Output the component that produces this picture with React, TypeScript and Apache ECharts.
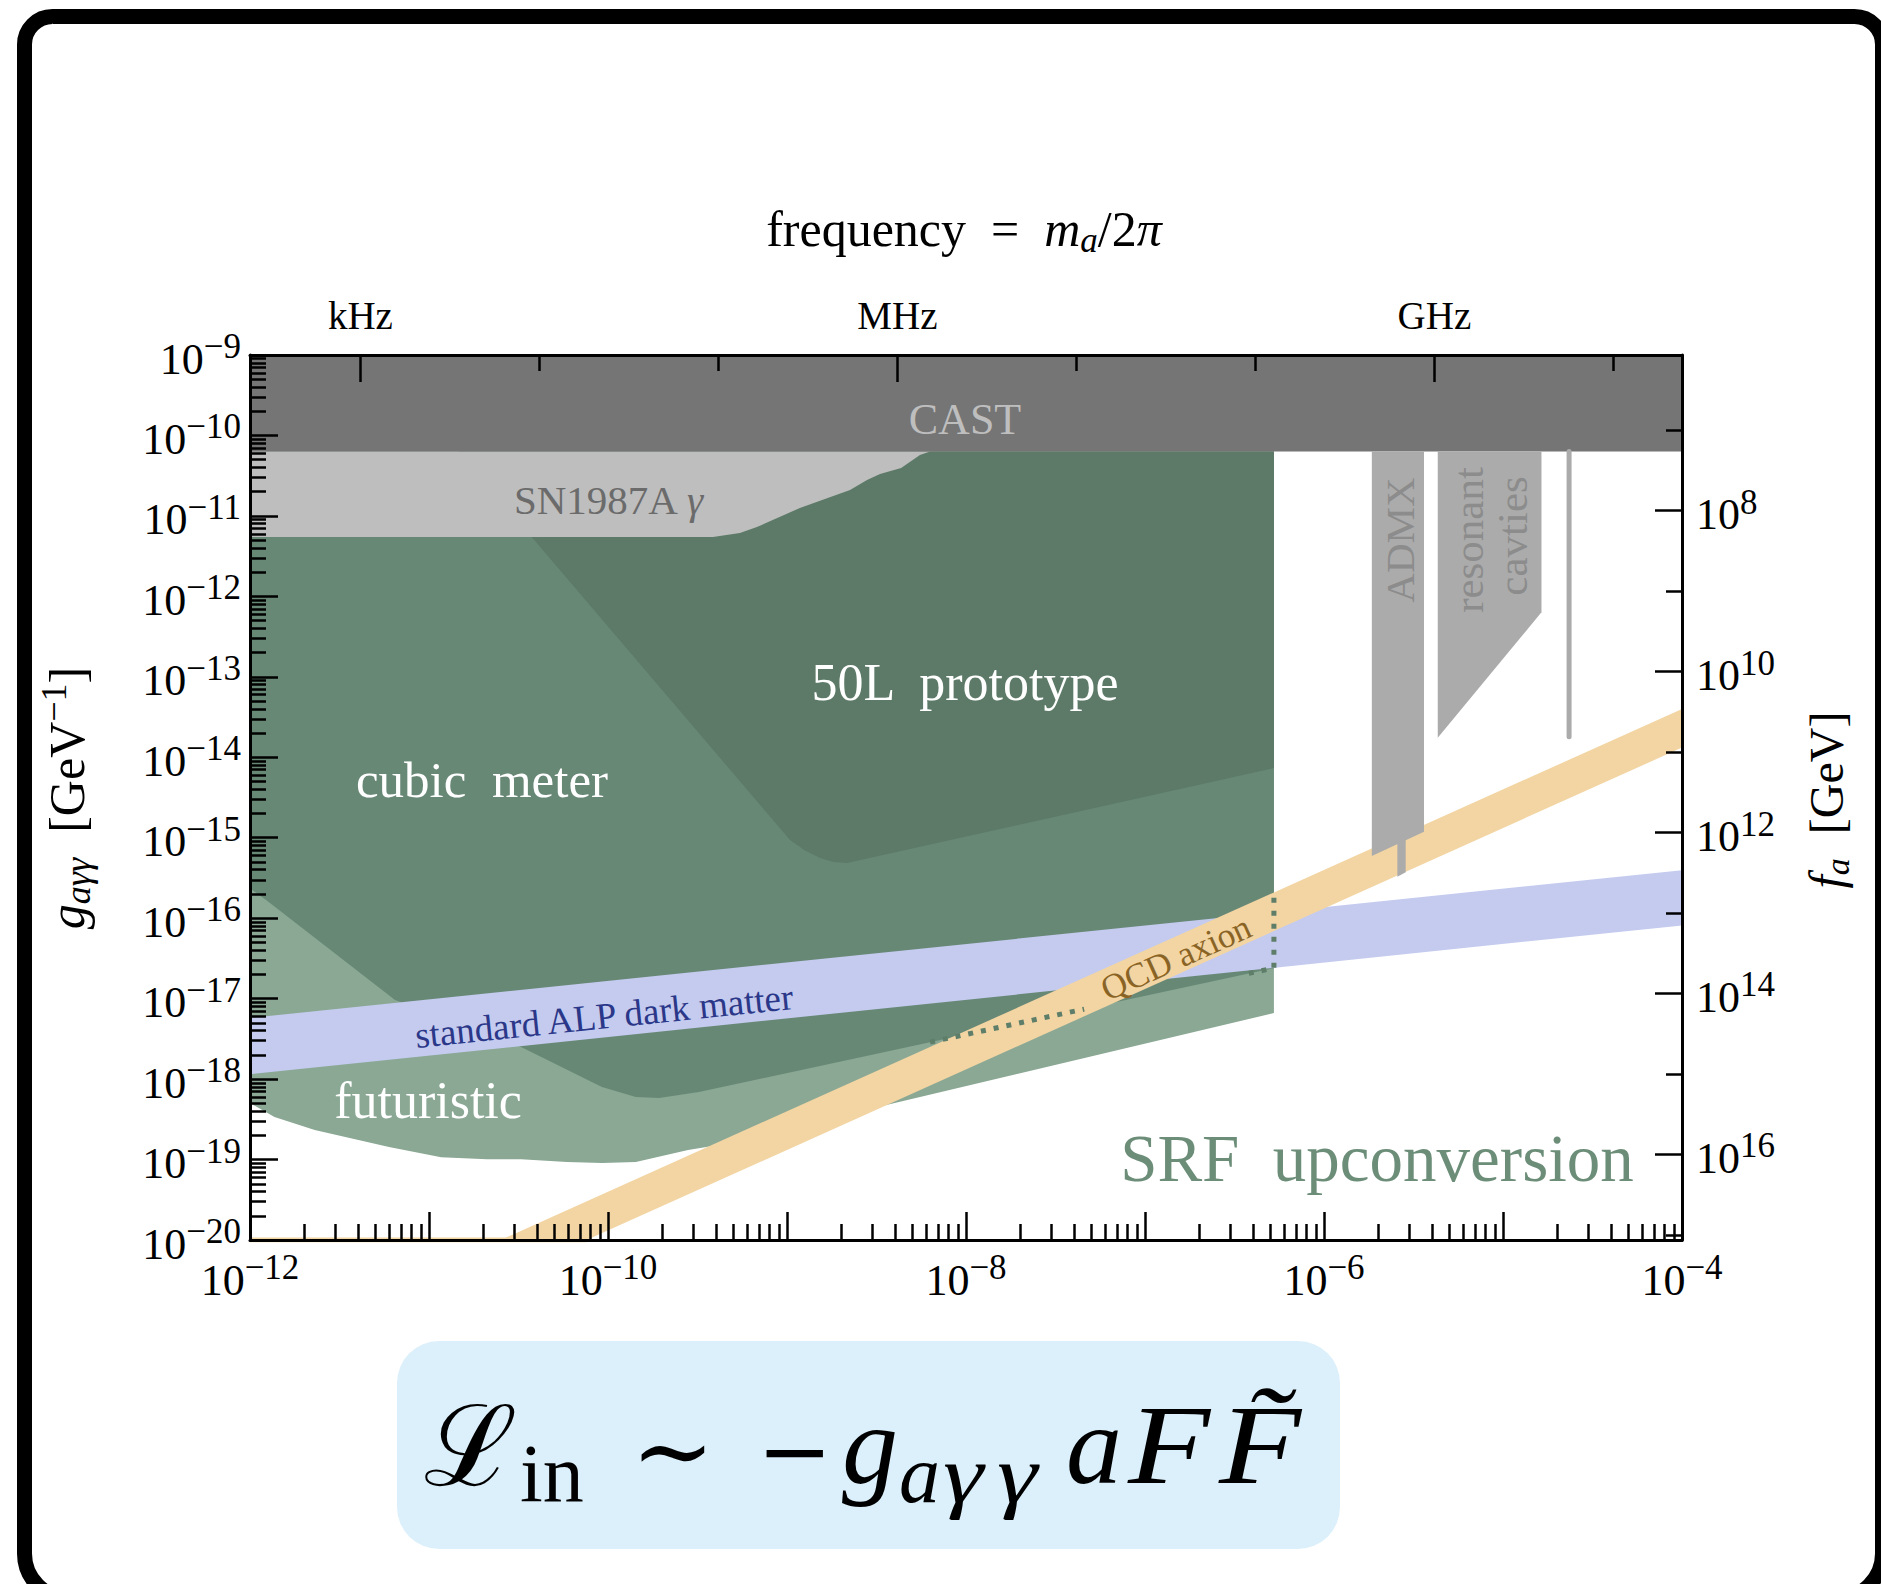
import React, { useEffect, useRef } from 'react';
import * as echarts from 'echarts';

const CANVAS_W = 1881;
const CANVAS_H = 1584;
const SERIF = '"Liberation Serif"';
const DJV = '"DejaVu Serif"';

// ---------- axes (log10 exponents on value axes) ----------
const MASS_MIN_EXP = -12;
const MASS_MAX_EXP = -4;
const G_MIN_EXP = -20;
const G_MAX_EXP = -9;

// conversions for the secondary axes
const HZ_PER_EV = 2.418e14; // frequency = m_a / 2pi
const G_TIMES_FA = 1.16e-3; // g_agg * f_a  (QCD relation used for the right axis)

const massLabelExps = [-12, -10, -8, -6, -4];
const freqMajorHz = [1e3, 1e6, 1e9];
const freqMajorNames = ['kHz', 'MHz', 'GHz'];
const freqMinorHz = [1e4, 1e5, 1e7, 1e8, 1e10];
const faLabelExps = [8, 10, 12, 14, 16];
const faMinorExps = [7, 9, 11, 13, 15, 17];
const minorMultipliers = [2, 3, 4, 5, 6, 7, 8, 9];

// ---------- regions: axion mass [eV] and coupling [GeV^-1] ----------
const castLimit = 6.3e-11;
const castMass = [1e-12, 1e-4, 1e-4, 1e-12];
const castG = [1e-9, 1e-9, castLimit, castLimit];

const sn1987aMass = [1e-12, 1e-12, 3.86e-10, 5.46e-10, 6.79e-10, 1.18e-9, 2.25e-9, 2.8e-9, 3.31e-9, 4.34e-9, 5.53e-9, 6.3e-9];
const sn1987aG = [castLimit, 5.47e-12, 5.47e-12, 6.12e-12, 7.28e-12, 1.25e-11, 2.1e-11, 2.79e-11, 3.32e-11, 3.94e-11, 5.71e-11, castLimit];

const futureMass = [1e-12, 5.25e-7, 5.25e-7, 4.06e-10, 2.8e-10, 1.43e-10, 9.25e-11, 5.9e-11, 3.27e-11, 2.11e-11, 1.17e-11, 5.98e-12, 2.3e-12, 1.37e-12, 1e-12];
const futureG = [castLimit, castLimit, 6.62e-18, 1.51e-19, 1.31e-19, 9.31e-20, 9.06e-20, 9.31e-20, 1.01e-19, 1.01e-19, 1.07e-19, 1.43e-19, 2.33e-19, 3.37e-19, 5.04e-19];

const cubicMass = [1e-12, 5.25e-7, 5.25e-7, 3.22e-10, 1.93e-10, 1.43e-10, 9.25e-11, 3.27e-11, 6.46e-12, 1.23e-12, 1e-12];
const cubicG = [castLimit, castLimit, 2.4e-17, 6.9e-19, 5.81e-19, 5.98e-19, 7.96e-19, 2.5e-18, 9.62e-18, 1.68e-16, 2.34e-16];

const proto50LMass = [1.47e-11, 5.25e-7, 5.25e-7, 2.16e-9, 1.82e-9, 1.53e-9, 1.26e-9, 1.04e-9];
const proto50LG = [castLimit, castLimit, 7.35e-15, 4.84e-16, 5.01e-16, 5.6e-16, 6.92e-16, 9.35e-16];

const alpMass = [1e-12, 1e-4, 1e-4, 1e-12];
const alpG = [5.77e-18, 3.95e-16, 8.13e-17, 1.15e-18];

const qcdMass = [2.51e-11, 1e-4, 1e-4, 7.59e-11];
const qcdG = [1e-20, 3.98e-14, 1.32e-14, 1e-20];
const qcdFloorMass = [1e-12, 7.59e-11];
const qcdFloorG = [1e-20, 1e-20];

const admxMass = [1.85e-6, 3.62e-6, 3.62e-6, 1.85e-6];
const admxG = [castLimit, castLimit, 1.19e-15, 5.93e-16];
const admxSpikeMass = [2.57e-6, 2.86e-6, 2.86e-6, 2.57e-6];
const admxSpikeG = [1e-15, 1e-15, 3.72e-16, 3.27e-16];

const cavityMass = [4.32e-6, 1.64e-5, 1.64e-5, 4.32e-6];
const cavityG = [castLimit, castLimit, 6.34e-13, 1.75e-14];

const cavityLineMass = [2.34e-5, 2.34e-5];
const cavityLineG = [castLimit, 1.8e-14];

const hiddenEdgeAMass = [6.3e-9, 4.57e-8];
const hiddenEdgeAG = [2.88e-18, 7.41e-18];
const hiddenEdgeBMass = [3.8e-7, 5.25e-7, 5.25e-7];
const hiddenEdgeBG = [2.06e-17, 2.4e-17, 2.0e-16];

// ---------- colours ----------
const C = {
  cast: '#757575',
  sn: '#bebebe',
  future: '#8aa894',
  cubic: '#688876',
  proto: '#5c7a67',
  alp: '#c4cbef',
  qcd: '#f2d5a3',
  gray: '#ababab',
  dotted: '#5e7e6a',
};

const L = Math.log10;
const toPts = (ms: number[], gs: number[]) => ms.map((m, i) => [L(m), L(gs[i])]);
const supText = (n: number) => (n < 0 ? '\u2212' + Math.abs(n) : String(n));
const minorsFor = (a: number, b: number) => {
  const r: number[] = [];
  for (let n = a; n < b; n++) minorMultipliers.forEach((k) => r.push(n + L(k)));
  return r;
};

function region(name: string, ms: number[], gs: number[], color: string, z: number) {
  const data = toPts(ms, gs);
  return {
    type: 'custom',
    name,
    z,
    silent: true,
    xAxisIndex: 0,
    yAxisIndex: 0,
    data,
    encode: { x: 0, y: 1 },
    renderItem: (params: any, api: any) => {
      if (params.dataIndex !== 0) return null;
      return {
        type: 'polygon',
        shape: { points: data.map((d) => api.coord(d)) },
        style: { fill: color },
      };
    },
  };
}

function lineSeries(name: string, ms: number[], gs: number[], color: string, width: number, z: number, dash?: number[], cap = 'butt') {
  return {
    type: 'line',
    name,
    z,
    silent: true,
    xAxisIndex: 0,
    yAxisIndex: 0,
    data: toPts(ms, gs),
    symbol: 'none',
    lineStyle: { color, width, type: dash || 'solid', cap },
  };
}

const tickRich = {
  b: { fontFamily: SERIF, fontSize: 44, color: '#000', verticalAlign: 'bottom' },
  s: { fontFamily: SERIF, fontSize: 35, color: '#000', verticalAlign: 'bottom', padding: [0, 0, 17, 0] },
};
const expLabel = (n: number) => `{b|10}{s|${supText(n)}}`;

const axisLine = { show: true, onZero: false, lineStyle: { color: '#000', width: 3 } };
const tickLine = { color: '#000', width: 2.5 };

function buildOption() {
  const xMinor = minorsFor(MASS_MIN_EXP, MASS_MAX_EXP);
  const yMinor = minorsFor(G_MIN_EXP, G_MAX_EXP);
  const freqMajorPos = freqMajorHz.map((f) => L(f / HZ_PER_EV));
  const freqMinorPos = freqMinorHz.map((f) => L(f / HZ_PER_EV));
  const faMajorPos = faLabelExps.map((k) => L(G_TIMES_FA) - k);
  const faMinorPos = faMinorExps.map((k) => L(G_TIMES_FA) - k);

  const baseX = { type: 'value', min: MASS_MIN_EXP, max: MASS_MAX_EXP, z: 10, splitLine: { show: false } };
  const baseY = { type: 'value', min: G_MIN_EXP, max: G_MAX_EXP, z: 10, splitLine: { show: false } };

  return {
    animation: false,
    backgroundColor: '#ffffff',
    grid: { left: 250, top: 355, width: 1432, height: 885, containLabel: false, outerBoundsMode: 'none' },
    xAxis: [
      {
        ...baseX,
        position: 'bottom',
        interval: 1,
        axisLine,
        axisTick: { show: true, inside: true, length: 28, lineStyle: tickLine },
        axisLabel: {
          show: true,
          margin: 10,
          formatter: (v: number) => (massLabelExps.indexOf(Math.round(v)) >= 0 ? expLabel(Math.round(v)) : ''),
          rich: tickRich,
        },
      },
      {
        ...baseX,
        position: 'bottom',
        axisLine: { show: false },
        axisTick: { show: true, inside: true, length: 16, lineStyle: tickLine, customValues: xMinor },
        axisLabel: { show: false },
      },
      {
        ...baseX,
        position: 'top',
        axisLine,
        axisTick: { show: true, inside: true, length: 27, lineStyle: tickLine, customValues: freqMajorPos },
        axisLabel: {
          show: true,
          margin: 20,
          customValues: freqMajorPos,
          fontFamily: SERIF,
          fontSize: 39,
          color: '#000',
          formatter: (v: number) => {
            const i = freqMajorPos.findIndex((p) => Math.abs(p - v) < 1e-6);
            return i >= 0 ? freqMajorNames[i] : '';
          },
        },
      },
      {
        ...baseX,
        position: 'top',
        axisLine: { show: false },
        axisTick: { show: true, inside: true, length: 16, lineStyle: tickLine, customValues: freqMinorPos },
        axisLabel: { show: false },
      },
    ],
    yAxis: [
      {
        ...baseY,
        position: 'left',
        interval: 1,
        axisLine,
        axisTick: { show: true, inside: true, length: 28, lineStyle: tickLine },
        axisLabel: { show: true, margin: 9, formatter: (v: number) => expLabel(Math.round(v)), rich: tickRich },
      },
      {
        ...baseY,
        position: 'left',
        axisLine: { show: false },
        axisTick: { show: true, inside: true, length: 16, lineStyle: tickLine, customValues: yMinor },
        axisLabel: { show: false },
      },
      {
        ...baseY,
        position: 'right',
        axisLine,
        axisTick: { show: true, inside: true, length: 27, lineStyle: tickLine, customValues: faMajorPos },
        axisLabel: {
          show: true,
          margin: 14,
          customValues: faMajorPos,
          formatter: (v: number) => expLabel(Math.round(L(G_TIMES_FA) - v)),
          rich: tickRich,
        },
      },
      {
        ...baseY,
        position: 'right',
        axisLine: { show: false },
        axisTick: { show: true, inside: true, length: 16, lineStyle: tickLine, customValues: faMinorPos },
        axisLabel: { show: false },
      },
    ],
    series: [
      region('futuristic', futureMass, futureG, C.future, 1),
      region('cubic meter', cubicMass, cubicG, C.cubic, 2),
      region('50L prototype', proto50LMass, proto50LG, C.proto, 3),
      region('SN1987A', sn1987aMass, sn1987aG, C.sn, 4),
      region('CAST', castMass, castG, C.cast, 5),
      region('standard ALP dark matter', alpMass, alpG, C.alp, 6),
      region('QCD axion', qcdMass, qcdG, C.qcd, 7),
      lineSeries('QCD floor', qcdFloorMass, qcdFloorG, C.qcd, 5, 7),
      lineSeries('hidden edge A', hiddenEdgeAMass, hiddenEdgeAG, C.dotted, 5, 8, [5, 8]),
      lineSeries('hidden edge B', hiddenEdgeBMass, hiddenEdgeBG, C.dotted, 5, 8, [5, 8]),
      region('ADMX', admxMass, admxG, C.gray, 8),
      region('ADMX spike', admxSpikeMass, admxSpikeG, C.gray, 8),
      region('resonant cavities', cavityMass, cavityG, C.gray, 8),
      lineSeries('cavity line', cavityLineMass, cavityLineG, C.gray, 5, 8, undefined, 'round'),
    ],
    graphic: buildGraphic(),
  };
}

function txt(x: number, y: number, text: string, size: number, fill: string, opts: any = {}) {
  return {
    type: 'text',
    x,
    y,
    rotation: opts.rotation || 0,
    scaleX: opts.scaleX || 1,
    z: 50,
    silent: true,
    style: {
      text,
      fill,
      fontFamily: opts.family || SERIF,
      fontSize: size,
      fontStyle: opts.italic ? 'italic' : 'normal',
      align: opts.align || 'center',
      verticalAlign: 'middle',
      rich: opts.rich,
    },
  };
}

function buildGraphic() {
  const deg = Math.PI / 180;
  const labelRich = (main: number, sub: number, color: string) => ({
    r: { fontFamily: SERIF, fontSize: main, fill: color, verticalAlign: 'bottom', padding: [0, 0, 4, 0] },
    i: { fontFamily: SERIF, fontSize: main, fill: color, fontStyle: 'italic', verticalAlign: 'bottom', padding: [0, 0, 4, 0] },
    sub: { fontFamily: SERIF, fontSize: sub, fill: color, fontStyle: 'italic', verticalAlign: 'bottom' },
    sup: { fontFamily: SERIF, fontSize: sub, fill: color, verticalAlign: 'bottom', padding: [0, 0, Math.round(main * 0.48), 0] },
  });
  const els: any[] = [
    // frame
    {
      type: 'rect',
      z: 60,
      silent: true,
      shape: { x: 24.5, y: 16.5, width: 1858, height: 1582, r: [28, 28, 45, 45] },
      style: { fill: 'none', stroke: '#000', lineWidth: 15 },
    },
    // formula box
    {
      type: 'rect',
      z: 40,
      silent: true,
      shape: { x: 397, y: 1341, width: 943, height: 208, r: 42 },
      style: { fill: '#dcf0fb' },
    },
    // title
    txt(964, 231, '{r|frequency  =  }{i|m}{sub|a}{r|/2}{i|\u03c0}', 50, '#000', { rich: labelRich(50, 35, '#000') }),
    // axis titles
    txt(66, 798, '{i|g}{sub|a\u03b3\u03b3}{r|  [GeV}{sup|\u22121}{r|]}', 50, '#000', { rotation: 90 * deg, rich: labelRich(50, 36, '#000') }),
    txt(1828, 800, '{i|f}{sub|a}{r|  [GeV]}', 48, '#000', { rotation: 90 * deg, rich: labelRich(48, 34, '#000') }),
    // region labels
    txt(965, 419, 'CAST', 44, '#bebebe'),
    txt(608, 500, '{r|SN1987A }{i|\u03b3}', 41, '#6b6b6b', {
      rich: {
        r: { fontFamily: SERIF, fontSize: 41, fill: '#6b6b6b' },
        i: { fontFamily: SERIF, fontSize: 41, fill: '#6b6b6b', fontStyle: 'italic' },
      },
    }),
    txt(965, 682, '50L  prototype', 52, '#ffffff'),
    txt(482, 780, 'cubic  meter', 51, '#ffffff'),
    txt(428, 1100, 'futuristic', 52, '#ffffff'),
    txt(1377, 1158, 'SRF  upconversion', 67, '#6c8e79'),
    txt(604, 1016, 'standard ALP dark matter', 37, '#2b3788', { rotation: 5.9 * deg }),
    txt(1176, 958, 'QCD axion', 35, '#8a6425', { rotation: 24.2 * deg }),
    txt(1400, 540, 'ADMX', 41, '#8c8c8c', { rotation: 90 * deg }),
    txt(1468, 540, 'resonant', 43, '#8c8c8c', { rotation: 90 * deg }),
    txt(1512, 536, 'cavties', 43, '#8c8c8c', { rotation: 90 * deg }),
    // formula  L_in ~ -g_{a gamma gamma} a F F~
    txt(424, 1446, '\u2112', 112, '#000', { family: DJV, align: 'left' }),
    txt(520, 1473, 'in', 82, '#000', { align: 'left' }),
    txt(631, 1450, '\u223c', 100, '#000', { family: DJV, align: 'left' }),
    txt(757, 1450, '\u2212', 90, '#000', { family: DJV, align: 'left' }),
    txt(842, 1445, 'g', 112, '#000', { italic: true, align: 'left' }),
    txt(899, 1474, 'a', 82, '#000', { italic: true, align: 'left' }),
    txt(943, 1474, '\u03b3', 82, '#000', { italic: true, align: 'left', scaleX: 1.25 }),
    txt(997, 1474, '\u03b3', 82, '#000', { italic: true, align: 'left', scaleX: 1.25 }),
    txt(1066, 1445, 'a', 112, '#000', { italic: true, align: 'left' }),
    txt(1128, 1445, 'F', 112, '#000', { italic: true, align: 'left', scaleX: 1.2 }),
    txt(1219, 1445, 'F\u0303', 112, '#000', { italic: true, align: 'left', scaleX: 1.2 }),
  ];
  return els;
}

export default function App() {
  const ref = useRef<HTMLDivElement>(null);
  useEffect(() => {
    if (!ref.current) return;
    const chart = echarts.init(ref.current, null, { renderer: 'svg', width: CANVAS_W, height: CANVAS_H });
    chart.setOption(buildOption() as any);
    return () => chart.dispose();
  }, []);
  return (
    <div
      ref={ref}
      style={{ position: 'fixed', left: 0, top: 0, width: CANVAS_W, height: CANVAS_H, background: '#fff' }}
    />
  );
}
